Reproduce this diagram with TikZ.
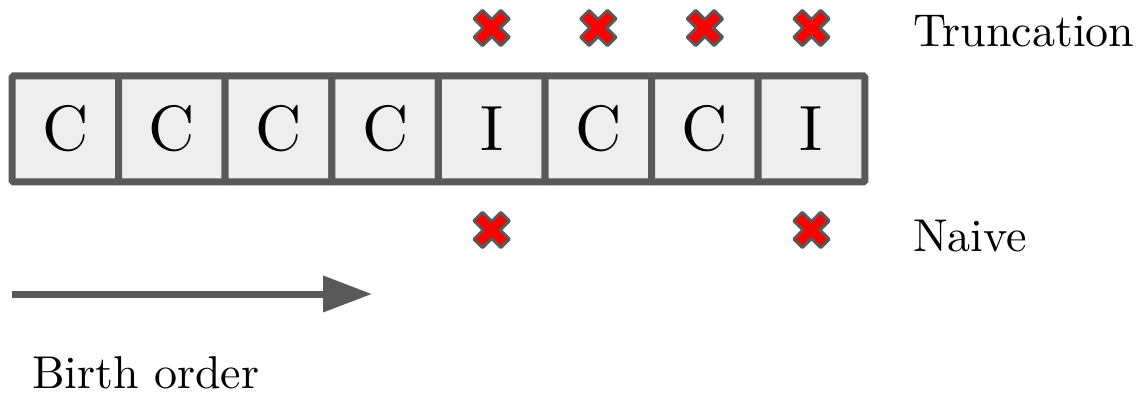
\documentclass[tikz,border=0pt]{standalone}
\usepackage{fontspec}
\setmainfont{lmroman10-regular}[Extension=.otf]
\usetikzlibrary{arrows.meta}
\definecolor{frame}{HTML}{595959}
\definecolor{cellfill}{HTML}{EEEEEE}
\definecolor{xred}{HTML}{FF0000}
\tikzset{
  cellbox/.style={draw=frame, fill=cellfill, line width=7pt, rounded corners=1.5pt,
    minimum width=106.6pt, minimum height=106pt, inner sep=0pt,
    font=\fontsize{64}{64}\selectfont},
  lbl/.style={anchor=base west, inner sep=0pt, font=\fontsize{46}{50}\selectfont},
  xcross/.pic={
    \path[fill=xred, draw=frame, line width=3pt, line join=round, rotate=45]
      (6,19) -- (6,6) -- (19,6) -- (19,-6) -- (6,-6) -- (6,-19)
      -- (-6,-19) -- (-6,-6) -- (-19,-6) -- (-19,6) -- (-6,6) -- (-6,19) -- cycle;
  }
}
\begin{document}
\begin{tikzpicture}[x=1pt,y=-1pt]
\useasboundingbox (0,0) rectangle (1148,403);
\foreach \t [count=\i] in {C,C,C,C,I,C,C,I}{
  \node[cellbox] (c\i) at ({12+53.3+106.6*(\i-1)},129) {\t};
}
% truncation crosses
\foreach \i in {5,6,7,8}{
  \pic at (c\i.center |- 0,28) {xcross};
}
% naive crosses
\foreach \i in {5,8}{
  \pic at (c\i.center |- 0,230) {xcross};
}
\node[lbl] (trunc) at (913,47) {Truncation};
\node[lbl] (naive) at (913,252) {Naive};
\node[lbl] (birth) at (32,388) {Birth order};
\coordinate (a0) at (12,294);
\coordinate (a1) at (372,294);
\draw[frame, line width=7pt, -{Triangle[length=49pt,width=35pt]}] (a0) -- (a1);
\end{tikzpicture}
\end{document}
